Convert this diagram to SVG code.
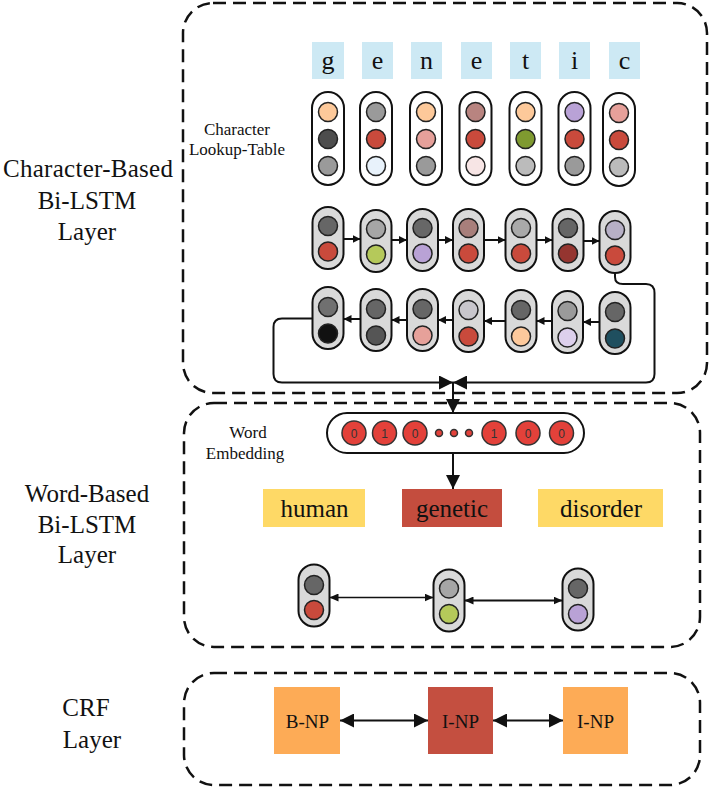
<svg xmlns="http://www.w3.org/2000/svg" width="710" height="789" viewBox="0 0 710 789">
<defs>
<style>
.frame{fill:none;stroke:#111;stroke-width:2.5;stroke-dasharray:13 7}
.lbl{font-family:"Liberation Serif","Times New Roman",serif;fill:#111;text-anchor:middle}
.big{font-size:25px}
.small{font-size:17px}
.letter{font-size:26px}
.word{font-size:25px}
.tag{font-size:19px}
.digit{font-family:"Liberation Sans",Arial,sans-serif;font-size:12px;fill:#333;text-anchor:middle}
.lbox{fill:#cde9f4}
.lpill{fill:#fff;stroke:#111;stroke-width:2}
.pill{fill:#d9d9d9;stroke:#111;stroke-width:2}
.c{stroke:#222;stroke-width:1.5}
.emb{fill:#e3413a;stroke:#333;stroke-width:1.5}
.conn{fill:none;stroke:#111;stroke-width:2}
.thin{fill:none;stroke:#111;stroke-width:1.5}
</style>
<marker id="ah" viewBox="0 0 8 8" refX="8" refY="4" markerWidth="8" markerHeight="8" markerUnits="userSpaceOnUse" orient="auto-start-reverse"><path d="M0,0 L8,4 L0,8 z" fill="#111"/></marker>
<marker id="ahs" viewBox="0 0 9 8" refX="9" refY="4" markerWidth="9" markerHeight="8" markerUnits="userSpaceOnUse" orient="auto-start-reverse"><path d="M0,0 L9,4 L0,8 z" fill="#111"/></marker>
<marker id="ahb" viewBox="0 0 14 14" refX="14" refY="7" markerWidth="14" markerHeight="14" markerUnits="userSpaceOnUse" orient="auto-start-reverse"><path d="M0,0 L14,7 L0,14 z" fill="#111"/></marker>
</defs>

<rect width="710" height="789" fill="#fff"/>

<!-- layer frames -->
<g id="frames">
<rect class="frame" x="183" y="3" width="524" height="390" rx="30"/>
<rect class="frame" x="184" y="403" width="516" height="244" rx="30"/>
<rect class="frame" x="184" y="673" width="516" height="112" rx="30"/>
</g>

<!-- layer labels -->
<g id="layer-labels">
<text class="lbl big" x="88" y="177" textLength="170" lengthAdjust="spacing">Character-Based</text>
<text class="lbl big" x="87" y="209">Bi-LSTM</text>
<text class="lbl big" x="87" y="240">Layer</text>
<text class="lbl big" x="87" y="502">Word-Based</text>
<text class="lbl big" x="87" y="533">Bi-LSTM</text>
<text class="lbl big" x="87" y="563">Layer</text>
<text class="lbl big" x="86" y="716">CRF</text>
<text class="lbl big" x="92" y="748">Layer</text>
<text class="lbl small" x="237" y="135">Character</text>
<text class="lbl small" x="237" y="155">Lookup-Table</text>
<text class="lbl small" x="248" y="438">Word</text>
<text class="lbl small" x="245" y="459">Embedding</text>
</g>

<!-- characters -->
<g id="chars">
<rect class="lbox" x="312" y="42" width="32" height="37"/><text class="lbl letter" x="328" y="69">g</text>
<rect class="lbox" x="362" y="42" width="31" height="37"/><text class="lbl letter" x="377.5" y="69">e</text>
<rect class="lbox" x="411" y="42" width="31" height="37"/><text class="lbl letter" x="426.5" y="69">n</text>
<rect class="lbox" x="461" y="42" width="31" height="37"/><text class="lbl letter" x="476.5" y="69">e</text>
<rect class="lbox" x="510" y="42" width="31" height="37"/><text class="lbl letter" x="525.5" y="69">t</text>
<rect class="lbox" x="559" y="42" width="31" height="37"/><text class="lbl letter" x="574.5" y="69">i</text>
<rect class="lbox" x="609" y="42" width="31" height="37"/><text class="lbl letter" x="624.5" y="69">c</text>
</g>

<!-- lookup table -->
<g id="lookup">
<g id="lk1"><rect class="lpill" x="312" y="92" width="32" height="93" rx="16"/><circle class="c" cx="328" cy="112" r="9.5" fill="#fdc99a"/><circle class="c" cx="328" cy="139" r="9.5" fill="#4d4d4d"/><circle class="c" cx="328" cy="166" r="9.5" fill="#9a9a9a"/></g>
<g id="lk2"><rect class="lpill" x="360" y="92" width="32" height="93" rx="16"/><circle class="c" cx="376" cy="112" r="9.5" fill="#9a9a9a"/><circle class="c" cx="376" cy="139" r="9.5" fill="#c94a3c"/><circle class="c" cx="376" cy="166" r="9.5" fill="#e8f2fb"/></g>
<g id="lk3"><rect class="lpill" x="410" y="92" width="32" height="93" rx="16"/><circle class="c" cx="426" cy="112" r="9.5" fill="#fdc99a"/><circle class="c" cx="426" cy="139" r="9.5" fill="#e6a09a"/><circle class="c" cx="426" cy="166" r="9.5" fill="#9a9a9a"/></g>
<g id="lk4"><rect class="lpill" x="459.5" y="92" width="32" height="93" rx="16"/><circle class="c" cx="475.5" cy="112" r="9.5" fill="#b88480"/><circle class="c" cx="475.5" cy="139" r="9.5" fill="#c94a3c"/><circle class="c" cx="475.5" cy="166" r="9.5" fill="#f7e5e5"/></g>
<g id="lk5"><rect class="lpill" x="509.5" y="92" width="32" height="93" rx="16"/><circle class="c" cx="525.5" cy="112" r="9.5" fill="#fdc99a"/><circle class="c" cx="525.5" cy="139" r="9.5" fill="#7f9a30"/><circle class="c" cx="525.5" cy="166" r="9.5" fill="#bbbbbb"/></g>
<g id="lk6"><rect class="lpill" x="558.5" y="92" width="32" height="93" rx="16"/><circle class="c" cx="574.5" cy="112" r="9.5" fill="#b9a2d6"/><circle class="c" cx="574.5" cy="139" r="9.5" fill="#c94a3c"/><circle class="c" cx="574.5" cy="166" r="9.5" fill="#9a9a9a"/></g>
<g id="lk7"><rect class="lpill" x="603" y="93" width="32" height="93" rx="16"/><circle class="c" cx="619" cy="113" r="9.5" fill="#e6a09a"/><circle class="c" cx="619" cy="140" r="9.5" fill="#c94a3c"/><circle class="c" cx="619" cy="167" r="9.5" fill="#bbbbbb"/></g>
</g>

<!-- forward LSTM row -->
<g id="fwd">
<g id="f1"><rect class="pill" x="312.5" y="207" width="31" height="62" rx="15.5"/><circle class="c" cx="328" cy="226" r="9.5" fill="#666"/><circle class="c" cx="328" cy="251.5" r="9.5" fill="#c94a3c"/></g>
<g id="f2"><rect class="pill" x="360.5" y="210" width="31" height="62" rx="15.5"/><circle class="c" cx="376" cy="229" r="9.5" fill="#a6a6a6"/><circle class="c" cx="376" cy="254.5" r="9.5" fill="#b5c95a"/></g>
<g id="f3"><rect class="pill" x="407" y="209" width="31" height="62" rx="15.5"/><circle class="c" cx="422.5" cy="228" r="9.5" fill="#676767"/><circle class="c" cx="422.5" cy="253.5" r="9.5" fill="#b9a2d6"/></g>
<g id="f4"><rect class="pill" x="453" y="209" width="31" height="62" rx="15.5"/><circle class="c" cx="468.5" cy="228" r="9.5" fill="#a87f7b"/><circle class="c" cx="468.5" cy="253.5" r="9.5" fill="#c94a3c"/></g>
<g id="f5"><rect class="pill" x="505.5" y="209" width="31" height="62" rx="15.5"/><circle class="c" cx="521" cy="228" r="9.5" fill="#a9a9a9"/><circle class="c" cx="521" cy="253.5" r="9.5" fill="#c94a3c"/></g>
<g id="f6"><rect class="pill" x="552.5" y="209" width="31" height="62" rx="15.5"/><circle class="c" cx="568" cy="228" r="9.5" fill="#666"/><circle class="c" cx="568" cy="253.5" r="9.5" fill="#953530"/></g>
<g id="f7"><rect class="pill" x="599.5" y="211" width="31" height="62" rx="15.5"/><circle class="c" cx="615" cy="230" r="9.5" fill="#b7b0c6"/><circle class="c" cx="615" cy="255.5" r="9.5" fill="#c94a3c"/></g>
</g>

<!-- backward LSTM row -->
<g id="bwd">
<g id="b1"><rect class="pill" x="312.5" y="287" width="31" height="62" rx="15.5"/><circle class="c" cx="328" cy="307" r="9.5" fill="#707070"/><circle class="c" cx="328" cy="333.5" r="9.5" fill="#111"/></g>
<g id="b2"><rect class="pill" x="360.5" y="289" width="31" height="62" rx="15.5"/><circle class="c" cx="376" cy="309" r="9.5" fill="#666"/><circle class="c" cx="376" cy="335.5" r="9.5" fill="#555"/></g>
<g id="b3"><rect class="pill" x="407" y="289" width="31" height="62" rx="15.5"/><circle class="c" cx="422.5" cy="309" r="9.5" fill="#666"/><circle class="c" cx="422.5" cy="335.5" r="9.5" fill="#e6a19a"/></g>
<g id="b4"><rect class="pill" x="453" y="290" width="31" height="62" rx="15.5"/><circle class="c" cx="468.5" cy="310" r="9.5" fill="#c8c6cc"/><circle class="c" cx="468.5" cy="336.5" r="9.5" fill="#c94a3c"/></g>
<g id="b5"><rect class="pill" x="505.5" y="290" width="31" height="62" rx="15.5"/><circle class="c" cx="521" cy="310" r="9.5" fill="#666"/><circle class="c" cx="521" cy="336.5" r="9.5" fill="#fdc99c"/></g>
<g id="b6"><rect class="pill" x="552" y="291" width="31" height="62" rx="15.5"/><circle class="c" cx="567.5" cy="311" r="9.5" fill="#9a9a9a"/><circle class="c" cx="567.5" cy="337.5" r="9.5" fill="#ddd0ec"/></g>
<g id="b7"><rect class="pill" x="599.5" y="292" width="31" height="62" rx="15.5"/><circle class="c" cx="615" cy="312" r="9.5" fill="#666"/><circle class="c" cx="615" cy="338.5" r="9.5" fill="#1f4f5f"/></g>
</g>

<!-- word embedding -->
<g id="embedding">
<rect x="327" y="413" width="257" height="40" rx="20" fill="#fff" stroke="#111" stroke-width="2"/>
<circle class="emb" cx="354" cy="433" r="12"/><text class="digit" x="354" y="437.5">0</text>
<circle class="emb" cx="384.5" cy="433" r="12"/><text class="digit" x="384.5" y="437.5">1</text>
<circle class="emb" cx="415" cy="433" r="12"/><text class="digit" x="415" y="437.5">0</text>
<circle class="emb" cx="439" cy="433" r="3.5"/>
<circle class="emb" cx="454" cy="433" r="3.5"/>
<circle class="emb" cx="469" cy="433" r="3.5"/>
<circle class="emb" cx="494" cy="433" r="12"/><text class="digit" x="494" y="437.5">1</text>
<circle class="emb" cx="528" cy="433" r="12"/><text class="digit" x="528" y="437.5">0</text>
<circle class="emb" cx="561.5" cy="433" r="12"/><text class="digit" x="561.5" y="437.5">0</text>
</g>

<!-- words -->
<g id="words">
<g id="w-human"><rect x="263" y="489" width="102" height="38" fill="#fed966"/><text class="lbl word" x="314.5" y="516.5">human</text></g>
<g id="w-genetic"><rect x="402" y="489" width="100" height="38" fill="#c44d3e"/><text class="lbl word" x="452" y="516.5">genetic</text></g>
<g id="w-disorder"><rect x="538" y="489" width="125" height="38" fill="#fed966"/><text class="lbl word" x="601" y="516.5">disorder</text></g>
</g>

<!-- word LSTM -->
<g id="wlstm">
<g id="wl1"><rect class="pill" x="298.5" y="564.5" width="31" height="62" rx="15.5"/><circle class="c" cx="314" cy="585" r="9.5" fill="#666"/><circle class="c" cx="314" cy="610" r="9.5" fill="#c94a3c"/></g>
<g id="wl2"><rect class="pill" x="433.5" y="569.5" width="31" height="62" rx="15.5"/><circle class="c" cx="449" cy="588.5" r="9.5" fill="#a6a6a6"/><circle class="c" cx="449" cy="614" r="9.5" fill="#b5c95a"/></g>
<g id="wl3"><rect class="pill" x="562.5" y="568.5" width="31" height="62" rx="15.5"/><circle class="c" cx="578" cy="588.5" r="9.5" fill="#666"/><circle class="c" cx="578" cy="614" r="9.5" fill="#b9a2d6"/></g>
</g>

<!-- CRF tags -->
<g id="crf">
<g id="t1"><rect x="274" y="687" width="66" height="67" fill="#fdab56"/><text class="lbl tag" x="307.5" y="728">B-NP</text></g>
<g id="t2"><rect x="428" y="687" width="65" height="67" fill="#c44f40"/><text class="lbl tag" x="460.5" y="728">I-NP</text></g>
<g id="t3"><rect x="563" y="687" width="65" height="67" fill="#fdab56"/><text class="lbl tag" x="595.5" y="728">I-NP</text></g>
</g>

<!-- connectors -->
<g id="connectors">
<line class="conn" x1="343.5" y1="239" x2="360.5" y2="239" marker-end="url(#ah)"/>
<line class="conn" x1="391.5" y1="240" x2="407" y2="240" marker-end="url(#ah)"/>
<line class="conn" x1="438" y1="240" x2="453" y2="240" marker-end="url(#ah)"/>
<line class="conn" x1="484" y1="240" x2="505.5" y2="240" marker-end="url(#ah)"/>
<line class="conn" x1="536.5" y1="240" x2="552.5" y2="240" marker-end="url(#ah)"/>
<line class="conn" x1="583.5" y1="241" x2="599.5" y2="241" marker-end="url(#ah)"/>

<line class="conn" x1="360.5" y1="319" x2="343.5" y2="319" marker-end="url(#ah)"/>
<line class="conn" x1="407" y1="320" x2="391.5" y2="320" marker-end="url(#ah)"/>
<line class="conn" x1="453" y1="320" x2="438" y2="320" marker-end="url(#ah)"/>
<line class="conn" x1="505.5" y1="321" x2="484" y2="321" marker-end="url(#ah)"/>
<line class="conn" x1="552" y1="321" x2="536.5" y2="321" marker-end="url(#ah)"/>
<line class="conn" x1="599.5" y1="322" x2="583" y2="322" marker-end="url(#ah)"/>

<path class="conn" d="M615,273 V277 Q615,284 623,284 H646 Q654.5,284 654.5,293 V374 Q654.5,382.5 646,382.5 H453" marker-end="url(#ahb)"/>
<path class="conn" d="M312.5,318.5 H282 Q273.5,318.5 273.5,327 V374 Q273.5,382.5 282,382.5 H453" marker-end="url(#ahb)"/>
<line class="conn" x1="453" y1="382.5" x2="453" y2="413" stroke-width="2.5" marker-end="url(#ahb)"/>
<line class="conn" x1="453" y1="453" x2="453" y2="489" stroke-width="2.5" marker-end="url(#ahb)"/>

<line class="thin" x1="329.5" y1="597.5" x2="433.5" y2="597.5" marker-start="url(#ahs)" marker-end="url(#ahs)"/>
<line class="conn" x1="464.5" y1="600.5" x2="562.5" y2="600.5" marker-start="url(#ahs)" marker-end="url(#ahs)"/>

<line class="conn" x1="340" y1="720.5" x2="428" y2="720.5" marker-start="url(#ahb)" marker-end="url(#ahb)"/>
<line class="conn" x1="493" y1="720.5" x2="563" y2="720.5" marker-start="url(#ahb)" marker-end="url(#ahb)"/>
</g>
</svg>
